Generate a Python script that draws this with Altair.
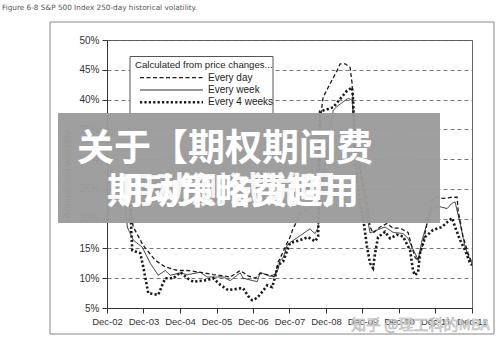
import altair as alt
import pandas as pd

series_names = ["Every day", "Every week", "Every 4 weeks"]
legend_title = "Calculated from price changes..."

day_dates = ["2002-12-04", "2003-02-22", "2003-04-20", "2003-06-02", "2003-07-12", "2003-08-21",
             "2003-11-29", "2004-03-28", "2004-07-06", "2004-11-04", "2005-02-12", "2005-06-22",
             "2005-10-29", "2006-02-06", "2006-04-17", "2006-07-26", "2006-10-14", "2006-12-23",
             "2007-02-11", "2007-05-22", "2007-07-10", "2007-08-09", "2007-09-28", "2007-11-07",
             "2007-12-07", "2008-01-07", "2008-02-16", "2008-03-17", "2008-05-26", "2008-08-14",
             "2008-09-03", "2008-09-13", "2008-10-03", "2008-11-02", "2009-01-12", "2009-03-23",
             "2009-04-21", "2009-06-10", "2009-07-30", "2009-08-19", "2009-08-29", "2009-09-18",
             "2009-11-07", "2009-11-27", "2010-01-16", "2010-02-15", "2010-03-17", "2010-05-26",
             "2010-08-04", "2010-10-03", "2010-12-12", "2011-03-02", "2011-04-11", "2011-05-11",
             "2011-06-10", "2011-07-20", "2011-09-08", "2011-10-28", "2011-11-27", "2012-02-15",
             "2012-05-16", "2012-07-05", "2012-07-15", "2012-09-03", "2012-10-23", "2012-12-02"]
day_vals = [26.5, 25.0, 24.0, 23.2, 22.7, 18.6,
            15.5, 13.0, 11.9, 11.3, 11.3, 11.0,
            10.6, 10.4, 10.2, 11.3, 10.4, 10.0,
            10.8, 10.5, 10.2, 12.7, 14.4, 15.9,
            16.9, 18.4, 19.6, 20.8, 21.6, 22.2,
            23.0, 28.6, 36.5, 40.4, 42.7, 44.9,
            46.0, 46.0, 45.4, 42.7, 38.7, 33.2,
            29.0, 27.0, 23.1, 18.6, 17.6, 18.6,
            19.2, 18.4, 18.4, 17.7, 15.2, 13.5,
            13.0, 15.2, 19.2, 23.1, 23.6, 23.4,
            23.6, 23.6, 21.4, 16.9, 14.2, 12.5]

week_dates = ["2002-12-04", "2003-01-10", "2003-02-22", "2003-03-24", "2003-06-02", "2003-06-22",
              "2003-08-21", "2003-11-19", "2004-02-07", "2004-04-27", "2004-07-06", "2004-08-26",
              "2004-12-04", "2005-02-12", "2005-06-22", "2005-08-30", "2005-12-08", "2006-02-06",
              "2006-04-17", "2006-07-26", "2006-08-25", "2006-12-23", "2007-01-12", "2007-02-11",
              "2007-05-22", "2007-07-10", "2007-08-09", "2007-08-29", "2007-09-28", "2007-11-07",
              "2007-12-07", "2008-02-16", "2008-04-16", "2008-06-25", "2008-07-15", "2008-08-14",
              "2008-09-13", "2008-10-03", "2008-12-22", "2009-02-11", "2009-04-01", "2009-05-21",
              "2009-07-10", "2009-08-19", "2009-09-18", "2009-11-07", "2009-12-07", "2010-01-16",
              "2010-02-15", "2010-04-26", "2010-07-15", "2010-10-03", "2011-01-11", "2011-03-02",
              "2011-04-11", "2011-05-31", "2011-06-10", "2011-07-20", "2011-09-08", "2011-10-28",
              "2012-01-16", "2012-03-27", "2012-05-16", "2012-06-15", "2012-08-04", "2012-09-23",
              "2012-11-12", "2012-12-02"]
week_vals = [20.6, 21.8, 22.6, 22.0, 22.6, 18.6,
             16.4, 15.2, 12.5, 10.5, 11.3, 10.5,
             10.9, 10.6, 11.0, 10.2, 10.2, 10.2,
             9.6, 10.9, 10.0, 9.5, 9.4, 11.0,
             10.3, 10.7, 11.5, 13.0, 13.4, 15.5,
             16.0, 16.8, 17.5, 18.3, 17.9, 17.5,
             18.5, 24.0, 32.6, 38.2, 39.0, 39.6,
             40.2, 39.9, 33.0, 28.0, 24.8, 20.3,
             17.6, 18.1, 18.6, 17.7, 17.5, 16.7,
             15.2, 13.5, 13.0, 16.4, 19.2, 21.7,
             22.0, 21.7, 22.6, 22.8, 19.2, 15.2,
             13.0, 12.5]

month_dates = ["2002-12-04", "2003-03-24", "2003-06-22", "2003-07-22", "2003-08-01", "2003-08-11",
               "2003-10-30", "2003-11-29", "2004-01-18", "2004-04-27", "2004-06-07", "2004-07-06",
               "2004-09-25", "2004-12-04", "2005-02-12", "2005-04-13", "2005-08-30", "2005-10-29",
               "2006-01-07", "2006-03-28", "2006-07-26", "2006-08-25", "2006-10-14", "2006-11-23",
               "2007-01-12", "2007-03-03", "2007-04-22", "2007-06-11", "2007-07-10", "2007-08-09",
               "2007-09-28", "2007-12-07", "2008-03-17", "2008-06-05", "2008-08-14", "2008-09-13",
               "2008-10-03", "2009-02-11", "2009-06-30", "2009-08-19", "2009-08-29", "2009-09-18",
               "2009-11-07", "2009-11-27", "2010-01-16", "2010-02-15", "2010-03-17", "2010-04-06",
               "2010-05-06", "2010-07-15", "2010-09-03", "2010-11-12", "2011-01-11", "2011-03-22",
               "2011-04-21", "2011-05-11", "2011-06-10", "2011-06-30", "2011-08-19", "2011-11-07",
               "2012-02-05", "2012-03-27", "2012-05-16", "2012-06-15", "2012-08-04", "2012-09-23",
               "2012-11-12", "2012-12-02"]
month_vals = [24.0, 23.5, 23.1, 22.6, 18.0, 14.7,
              14.2, 11.9, 7.5, 7.2, 8.9, 10.0,
              10.0, 11.0, 10.0, 9.4, 9.7, 10.0,
              8.9, 8.0, 8.3, 8.3, 7.0, 6.3,
              6.7, 7.7, 8.8, 8.5, 10.2, 12.2,
              12.8, 15.9, 16.4, 16.9, 16.2, 17.0,
              38.0, 38.7, 41.5, 42.0, 39.9, 30.0,
              22.0, 21.4, 15.2, 12.5, 11.7, 14.2,
              16.9, 17.8, 16.7, 17.3, 17.0, 14.7,
              11.3, 10.5, 11.0, 14.2, 16.9, 18.1,
              18.6, 19.4, 20.1, 18.6, 16.4, 14.7,
              12.5, 12.2]

tick_years = list(range(2002, 2013))
y_ticks = [5, 10, 15, 20, 25, 30, 35, 40, 45, 50]

W, H = 365, 268
FONT = "Liberation Sans"
LINE_COLOR = "#1a1a1a"
styles = {
    "Every day": {"strokeDash": [4, 2.5], "strokeWidth": 1.3},
    "Every week": {"strokeDash": [1, 0], "strokeWidth": 0.9},
    "Every 4 weeks": {"strokeDash": [2.2, 2.2], "strokeWidth": 2.6},
}

x_enc = alt.X("date:T",
              scale=alt.Scale(type="utc", domain=[alt.DateTime(year=2002, month=12, date=1, utc=True),
                                                  alt.DateTime(year=2012, month=12, date=1, utc=True)]),
              axis=alt.Axis(values=[alt.DateTime(year=yy, month=12, date=1, utc=True) for yy in tick_years],
                            labelExpr="utcFormat(datum.value, '%b-%y')", title=None,
                            labelFont=FONT, labelFontSize=9.5, labelColor="#333",
                            labelOverlap=False, labelBound=False, labelFlush=False,
                            tickSize=5, tickColor="#333", domainColor="#333", labelPadding=3,
                            grid=False))
y_enc = alt.Y("vol:Q", scale=alt.Scale(domain=[5, 50]),
              axis=alt.Axis(values=y_ticks, labelExpr="datum.value + '%'",
                            title="Annualized volatility", titleFont=FONT, titleFontSize=10,
                            titleFontWeight="normal", titleColor="#444", titlePadding=6,
                            labelFont=FONT, labelFontSize=10, labelColor="#333",
                            labelOverlap=False, labelBound=False, labelFlush=False,
                            tickSize=5, tickColor="#333", domainColor="#333", labelPadding=3,
                            grid=True, gridDash=[4, 3], gridColor="#555", gridWidth=0.8))

frames = []
for name, d, v in [(series_names[0], day_dates, day_vals),
                   (series_names[1], week_dates, week_vals),
                   (series_names[2], month_dates, month_vals)]:
    frames.append(pd.DataFrame({"date": d, "vol": v, "series": name}))
df = pd.concat(frames, ignore_index=True)

base = alt.Chart(df).encode(x=x_enc, y=y_enc)
line_layers = [
    base.transform_filter(alt.datum.series == name).mark_line(color=LINE_COLOR, clip=True, **styles[name])
    for name in series_names
]

one = pd.DataFrame({"k": [0]})

frame = alt.Chart(one).mark_rect(fill=None, stroke="#888", strokeWidth=1, clip=False).encode(
    x=alt.value(-57), x2=alt.value(387), y=alt.value(-18), y2=alt.value(294))

fig_title = alt.Chart(one).mark_text(
    text="Figure 6-8 S&P 500 Index 250-day historical volatility.", align="left",
    baseline="alphabetic", font="DejaVu Sans", fontSize=7.3, color="#555").encode(
    x=alt.value(-105), y=alt.value(-30))

# legend (drawn as a small inset box)
leg_box = alt.Chart(one).mark_rect(fill="white", stroke="#555", strokeWidth=1).encode(
    x=alt.value(23), x2=alt.value(166), y=alt.value(16.5), y2=alt.value(73.5))
leg_title = alt.Chart(one).mark_text(
    text=legend_title, align="left", baseline="middle", font=FONT, fontSize=9.6, color="#222").encode(
    x=alt.value(28), y=alt.value(24.5))
leg_layers = [leg_box, leg_title]
for i, name in enumerate(series_names):
    yy = 37.7 + i * 12.3
    leg_layers.append(alt.Chart(one).mark_rule(color=LINE_COLOR, **styles[name]).encode(
        x=alt.value(33), x2=alt.value(96), y=alt.value(yy)))
    leg_layers.append(alt.Chart(one).mark_text(
        text=name, align="left", baseline="middle", font=FONT, fontSize=10, color="#222").encode(
        x=alt.value(101), y=alt.value(yy)))

banner = alt.Chart(one).mark_rect(fill="#9b9b9b", opacity=0.96, clip=False).encode(
    x=alt.value(-49), x2=alt.value(333), y=alt.value(73), y2=alt.value(183))

banner_t1 = alt.Chart(one).mark_text(
    text="关于【期权期间费", align="left", baseline="alphabetic", font="Noto Sans CJK SC",
    fontWeight="bold", fontSize=37, color="white").encode(x=alt.value(-30), y=alt.value(121))

banner_t2 = alt.Chart(one).mark_text(
    text="期动策略费趋用", align="left", baseline="alphabetic", font="Noto Sans CJK SC",
    fontWeight="bold", fontSize=36, color="white").encode(x=alt.value(0), y=alt.value(164))

banner_t3 = alt.Chart(one).mark_text(
    text="用动测试说明", align="left", baseline="alphabetic", font="Noto Sans CJK SC",
    fontWeight="bold", fontSize=36, color="white", opacity=0.9).encode(x=alt.value(12), y=alt.value(163))

watermark = alt.Chart(one).mark_text(
    text="知乎 @理工科的MBA", align="left", baseline="middle", font="Noto Sans CJK SC",
    fontSize=15, color="#e6e6e6", stroke="#b5b5b5", strokeWidth=0.6).encode(
    x=alt.value(244), y=alt.value(285))

chart = alt.layer(frame, *line_layers, fig_title, *leg_layers, banner, banner_t1, banner_t2,
                  banner_t3, watermark).properties(
    width=W, height=H,
    padding={"left": 107, "top": 40, "right": 28, "bottom": 29},
    autosize=alt.AutoSizeParams(type="none"),
    background="white",
).configure_view(stroke="#666", strokeWidth=1)

chart.save("out.html", embed_options={"renderer": "svg", "actions": False})
